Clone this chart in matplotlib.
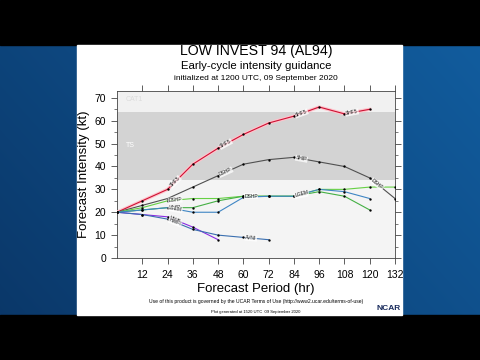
import matplotlib
matplotlib.use('Agg')
import matplotlib.pyplot as plt
import numpy as np
import matplotlib.patheffects as pe
from matplotlib.patches import Rectangle

plt.rcParams['font.family'] = ['Liberation Sans', 'DejaVu Sans']

# ---------------- data ----------------
hours = [0, 12, 24, 36, 48, 60, 72, 84, 96, 108, 120, 132]
xticks = [12, 24, 36, 48, 60, 72, 84, 96, 108, 120, 132]
yticks = [0, 10, 20, 30, 40, 50, 60, 70]

red_shf5 = [20, 25, 30, 41, 48, 54, 59, 62, 66, 63, 65]
gray_dsf5 = [20, 23, 26, 31, 36, 41, 43, 44, 42, 40, 35, 26]
green_dshp = [20, 22, 25, 26, 26, 27, 27, 27, 30, 30, 31, 31]
green_ship = [20, 21, 22, 22, 25, 27, 27, 27, 29, 27, 21]
blue_lgem = [20, 21, 22, 20, 20, 26.5, 27, 27, 30, 29, 26]
purple_nnib = [20, 19, 18, 13.5, 8]
blue_avni = [20, 19, 17, 12.5, 10, 9, 8]

series = [
    ("SHF5", red_shf5, '#cc1133'),
    ("DSF5", gray_dsf5, '#505050'),
    ("DSHP", green_dshp, '#66d044'),
    ("SHIP", green_ship, '#44b044'),
    ("LGEM", blue_lgem, '#3f86c4'),
    ("NNIB", purple_nnib, '#8a2be2'),
    ("AVNI", blue_avni, '#3a6fb0'),
]
# (series index, segment start index, label text)
line_labels = [
    (0, 2, "SHF5"), (0, 4, "SHF5"), (0, 7, "SHF5"), (0, 9, "SHF5"),
    (1, 4, "DSHP"), (1, 7, "SHIP"), (1, 10, "DSHP"),
    (2, 2, "DSHP"), (2, 5, "DSHP"),
    (3, 2, "SHIP"), (3, 7, "IVCN"),
    (4, 2, "LGEM"), (4, 7, "LGEM"),
    (5, 2, "NNIB"), (6, 2, "HWFI"), (6, 5, "AVNI"),
]

title = "LOW INVEST 94 (AL94)"
subtitle = "Early-cycle intensity guidance"
init_text = "initialized at 1200 UTC, 09 September 2020"
footer1 = "Use of this product is governed by the UCAR Terms of Use (http://www2.ucar.edu/terms-of-use)"
footer2 = "Plot generated at 1520 UTC  09 September 2020"

# ---------------- figure / background ----------------
W, H = 480, 360
fig = plt.figure(figsize=(4.8, 3.6), dpi=100)
bg = fig.add_axes([0, 0, 1, 1])
bg.set_axis_off()
yy, xx = np.mgrid[0:H, 0:W]
t = np.clip((xx / W) * 0.6 + (1 - yy / H) * 0.4, 0, 1)
c0 = np.array([0.04, 0.21, 0.40])
c1 = np.array([0.07, 0.37, 0.63])
img = c0[None, None, :] * (1 - t[..., None]) + c1[None, None, :] * t[..., None]
bg.imshow(img, extent=[0, W, H, 0], aspect='auto')
bg.set_xlim(0, W)
bg.set_ylim(H, 0)
bg.add_patch(Rectangle((0, 0), W, 45, color='black'))
bg.add_patch(Rectangle((0, 315), W, 45, color='black'))
bg.add_patch(Rectangle((77, 45), 325, 270, color='white'))

# ---------------- main axes ----------------
L, R, T, B = 117, 395, 91, 258
ax = fig.add_axes([L / W, 1 - B / H, (R - L) / W, (B - T) / H])
ax.set_xlim(0, 132)
ax.set_ylim(0, 73)
ax.axhspan(0, 34, color='#f4f4f4', lw=0, zorder=0)
ax.axhspan(34, 64, color='#d3d3d3', lw=0, zorder=0)
ax.axhspan(64, 73, color='#f1f1f1', lw=0, zorder=0)
ax.text(4, 69.5, "CAT1", fontsize=5, color='#dcdcdc', va='center', ha='left')
ax.text(4, 49, "TS", fontsize=5, color='white', va='center', ha='left')

for i, (name, vals, col) in enumerate(series):
    xs = hours[:len(vals)]
    kw = {}
    if i == 0:
        kw['path_effects'] = [pe.Stroke(linewidth=2.4, foreground='#ffc4cc'), pe.Normal()]
    ax.plot(xs, vals, color=col, lw=0.8, zorder=3, **kw)
    ax.plot(xs, vals, 'o', color='black', ms=0.7, zorder=4)

fig.canvas.draw()
for si, seg, txt in line_labels:
    vals = series[si][1]
    x0, x1 = hours[seg], hours[seg + 1]
    y0, y1 = vals[seg], vals[seg + 1]
    p0 = ax.transData.transform((x0, y0))
    p1 = ax.transData.transform((x1, y1))
    ang = np.degrees(np.arctan2(p1[1] - p0[1], p1[0] - p0[0]))
    xm, ym = (x0 * 0.7 + x1 * 0.3), (y0 * 0.7 + y1 * 0.3)
    ax.text(xm, ym, txt, fontsize=3.6, rotation=ang, rotation_mode='anchor',
            ha='center', va='center', color='#222222', zorder=5,
            bbox=dict(boxstyle='square,pad=0.1', fc='white', ec='none', alpha=0.75))

ax.set_xticks(xticks)
ax.set_yticks(yticks)
ax.set_yticks(np.arange(5, 73, 10), minor=True)
ax.tick_params(axis='both', which='major', direction='out', length=4, width=0.6,
               labelsize=7.5, top=True, right=True, color='#444444')
ax.tick_params(axis='y', which='minor', direction='out', length=2, width=0.5,
               right=True, color='#444444')
ax.tick_params(axis='x', pad=5)
ax.tick_params(axis='y', pad=4)
for s in ax.spines.values():
    s.set_color('#444444')
    s.set_linewidth(0.6)
ax.set_xlabel("Forecast Period (hr)", fontsize=9.5, labelpad=2)
ax.set_ylabel("Forecast Intensity (kt)", fontsize=9.5, labelpad=3)

cx = (L + R) / 2 / W
fig.text(cx, 1 - 51 / H, title, ha='center', va='center', fontsize=10.2)
fig.text(cx, 1 - 66 / H, subtitle, ha='center', va='center', fontsize=8.2)
fig.text(cx, 1 - 78 / H, init_text, ha='center', va='center', fontsize=6)
fig.text(cx, 1 - 302 / H, footer1, ha='center', va='center', fontsize=3.6)
fig.text(cx, 1 - 311.5 / H, footer2, ha='center', va='center', fontsize=3.0)
fig.text(401 / W, 1 - 309 / H, "NCAR", ha='right', va='center', fontsize=6,
         fontweight='bold', color='#1b2d5e')

fig.savefig('out.png', dpi=100)
